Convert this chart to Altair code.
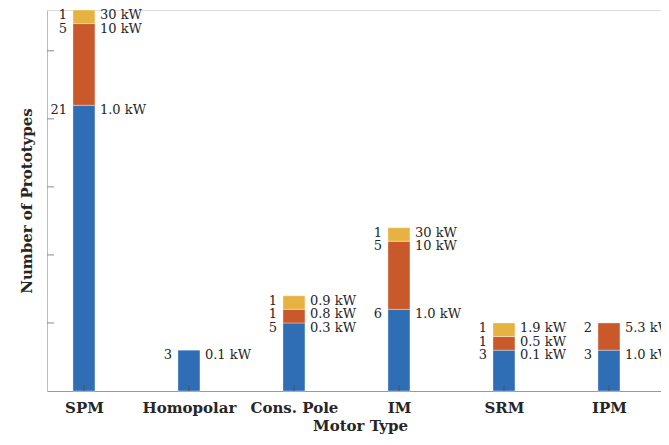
import altair as alt
import pandas as pd

categories = ["SPM", "Homopolar", "Cons. Pole", "IM", "SRM", "IPM"]
positions = [1, 2, 3, 4, 5, 6]

# bar heights (number of prototypes) per power tier, as drawn
tier_low = [21, 3, 5, 6, 3, 3]
tier_mid = [6, 0, 1, 5, 1, 2]
tier_high = [1, 0, 1, 1, 1, 0]

# text printed next to each segment
count_low = ["21", "3", "5", "6", "3", "3"]
count_mid = ["5", "", "1", "5", "1", "2"]
count_high = ["1", "", "1", "1", "1", ""]
power_low = ["1.0 kW", "0.1 kW", "0.3 kW", "1.0 kW", "0.1 kW", "1.0 kW"]
power_mid = ["10 kW", "", "0.8 kW", "10 kW", "0.5 kW", "5.3 kW"]
power_high = ["30 kW", "", "0.9 kW", "30 kW", "1.9 kW", ""]

y_ticks = [5, 10, 15, 20, 25]

tiers = ["low", "mid", "high"]
tier_colors = ["#2F6DB5", "#C9592B", "#E6B343"]

rows = []
for i, cat in enumerate(categories):
    base = 0
    for tier, vals, cnts, pws in [
        ("low", tier_low, count_low, power_low),
        ("mid", tier_mid, count_mid, power_mid),
        ("high", tier_high, count_high, power_high),
    ]:
        v = vals[i]
        if v > 0:
            rows.append(dict(cat=cat, pos=positions[i], tier=tier, y0=base,
                             y1=base + v, count=cnts[i], power=pws[i]))
        base += v
df = pd.DataFrame(rows)

W, H = 614, 381
PAD_L, PAD_T, PAD_B = 39, 2, 43
x_dom = [0.648, 0.648 + W / 105.0]
x_scale = alt.Scale(domain=x_dom, nice=False, zero=False, padding=0)
y_scale = alt.Scale(domain=[0, 28], nice=False, zero=False, padding=0)

label_expr = "{" + ",".join(f"'{p}':'{c}'" for p, c in zip(positions, categories)) + "}[datum.value]"

x_enc = alt.X("pos:Q", scale=x_scale,
              axis=alt.Axis(values=positions, labelExpr=label_expr, title="Motor Type",
                            ticks=False, grid=False, domainColor="#9a9a9a", domainWidth=1,
                            labelFont="DejaVu Serif", labelFontWeight="bold", labelFontSize=15,
                            labelColor="#262626", labelPadding=9,
                            titleFont="DejaVu Serif", titleFontWeight="bold", titleFontSize=15,
                            titleColor="#262626", titlePadding=3, titleX=(669 - 47) / 2 + 2))

bars = alt.Chart(df).mark_bar(width=22, stroke="white", strokeWidth=0.6, strokeOpacity=0.6).encode(
    x=x_enc,
    y=alt.Y("y0:Q", scale=y_scale,
            axis=alt.Axis(title="Number of Prototypes", labels=False, ticks=False, grid=False,
                          domainColor="#bdbdbd", domainWidth=1,
                          titleFont="DejaVu Serif", titleFontWeight="bold", titleFontSize=15,
                          titleColor="#262626", titlePadding=13)),
    y2="y1:Q",
    color=alt.Color("tier:N", scale=alt.Scale(domain=tiers, range=tier_colors), legend=None),
)

left_text = alt.Chart(df).mark_text(align="right", baseline="middle", dx=-17, dy=5,
                                    font="DejaVu Serif", fontSize=13, color="#262626").encode(
    x=alt.X("pos:Q", scale=x_scale), y=alt.Y("y1:Q", scale=y_scale), text="count:N")
right_text = alt.Chart(df).mark_text(align="left", baseline="middle", dx=16, dy=5,
                                     font="DejaVu Serif", fontSize=13, color="#262626").encode(
    x=alt.X("pos:Q", scale=x_scale), y=alt.Y("y1:Q", scale=y_scale), text="power:N")

ytick_df = pd.DataFrame({"v": y_ticks})
yticks = alt.Chart(ytick_df).mark_rule(color="#8a8a8a", strokeWidth=1).encode(
    x=alt.value(0), x2=alt.value(7), y=alt.Y("v:Q", scale=y_scale))

xtick_df = pd.DataFrame({"p": positions})
xticks = alt.Chart(xtick_df).mark_rule(color="#555555", strokeWidth=1).encode(
    x=alt.X("p:Q", scale=x_scale),
    y=alt.value(H), y2=alt.value(H - 6))

chart = alt.layer(bars, xticks, yticks, left_text, right_text).properties(
    width=W, height=H,
    autosize=alt.AutoSizeParams(type="none"),
    padding={"left": PAD_L, "top": PAD_T, "right": 0, "bottom": PAD_B},
).configure_view(stroke=None).configure(background="white")

chart.save("out.html", embed_options={"renderer": "svg", "actions": False})
